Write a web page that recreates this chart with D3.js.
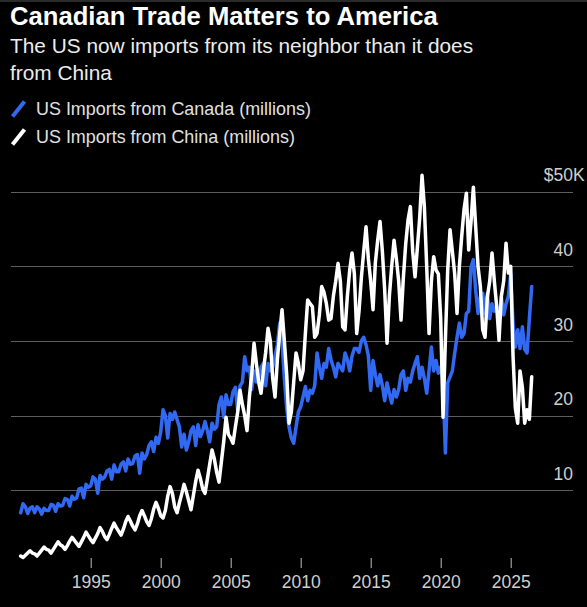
<!DOCTYPE html>
<html>
<head>
<meta charset="utf-8">
<script src="https://cdn.jsdelivr.net/npm/d3@7"></script>
<style>
  body { margin: 0; background: #000; }
  svg { display: block; font-family: "Liberation Sans", Arial, sans-serif; }
</style>
</head>
<body>
<div id="chart-area"></div>
<script>
// readings every two months (Jan, Mar, May, Jul, Sep, Nov), $ billions
var startYear = 1990
var perYear = 6

var canada = [
  7.0, 8.2, 7.8, 6.9, 7.6, 7.8,        // 1990
  7.0, 7.8, 7.5, 6.8, 7.6, 7.3,        // 1991
  7.3, 8.1, 8.0, 7.2, 8.2, 7.9,        // 1992
  8.0, 8.9, 8.8, 7.9, 9.2, 8.8,        // 1993
  9.0, 10.2, 10.3, 9.0, 10.8, 10.4,    // 1994
  10.6, 11.8, 11.5, 9.6, 12.0, 11.5,   // 1995
  11.8, 12.6, 12.8, 11.5, 13.4, 12.5,  // 1996
  12.5, 13.5, 13.8, 12.6, 14.2, 13.5,  // 1997
  13.6, 14.6, 14.8, 12.3, 15.0, 14.2,  // 1998
  14.8, 16.0, 16.5, 15.2, 17.1, 16.3,  // 1999
  17.8, 20.8, 20.0, 17.0, 20.3, 19.5,  // 2000
  20.5, 19.5, 18.5, 15.8, 17.5, 15.4,  // 2001
  16.5, 18.0, 18.5, 16.0, 18.8, 17.2,  // 2002
  18.0, 19.2, 18.0, 16.5, 19.0, 18.2,  // 2003
  18.5, 21.5, 22.5, 19.8, 22.8, 21.5,  // 2004
  21.5, 23.2, 23.8, 20.7, 24.0, 24.5,  // 2005
  27.9, 26.0, 26.5, 23.5, 26.0, 24.5,  // 2006
  25.0, 26.5, 27.0, 24.0, 27.0, 26.0,  // 2007
  26.5, 28.0, 29.5, 32.4, 30.0, 25.0,  // 2008
  21.0, 18.5, 17.0, 16.3, 18.5, 20.5,  // 2009
  21.2, 22.5, 23.9, 22.0, 23.4, 23.0,  // 2010
  24.0, 28.4, 26.5, 25.0, 27.0, 26.5,  // 2011
  29.0, 27.5, 26.5, 25.2, 27.0, 26.5,  // 2012
  26.0, 28.4, 27.5, 26.0, 28.0, 29.0,  // 2013
  29.0, 28.5, 30.0, 30.5, 29.5, 28.0,  // 2014
  23.4, 27.4, 25.5, 24.0, 25.5, 24.0,  // 2015
  22.0, 24.4, 23.0, 21.7, 23.5, 22.5,  // 2016
  23.5, 25.5, 26.0, 23.4, 25.0, 24.5,  // 2017
  26.0, 27.0, 27.9, 25.0, 26.5, 25.0,  // 2018
  23.0, 26.0, 29.2, 26.0, 27.4, 25.7,  // 2019
  26.5, 25.0, 15.0, 24.4, 25.2, 26.0,  // 2020
  28.4, 30.5, 32.4, 30.5, 31.0, 33.7,  // 2021
  34.0, 39.9, 40.9, 36.8, 33.7, 36.0,  // 2022
  36.4, 33.7, 36.4, 33.0, 35.0, 34.0,  // 2023
  34.6, 33.2, 35.9, 33.5, 35.0, 36.0,  // 2024
  39.0, 32.4, 29.2, 31.5, 29.0, 31.9,  // 2025
  28.9, 28.4, 33.0, 37.3               // 2026
]

var china = [
  1.2, 1.0, 1.3, 1.6, 1.9, 1.6,        // 1990
  1.5, 1.2, 1.6, 2.0, 2.4, 2.1,        // 1991
  2.0, 1.6, 2.1, 2.6, 3.1, 2.7,        // 1992
  2.5, 2.1, 2.6, 3.2, 3.7, 3.3,        // 1993
  2.9, 2.5, 3.1, 3.7, 4.4, 3.9,        // 1994
  3.4, 3.0, 3.6, 4.2, 5.0, 4.5,        // 1995
  3.8, 3.4, 4.1, 4.9, 5.6, 5.0,        // 1996
  4.5, 4.0, 4.8, 5.8, 6.5, 5.9,        // 1997
  5.2, 4.7, 5.5, 6.6, 7.3, 6.6,        // 1998
  5.8, 5.3, 6.2, 7.5, 8.4, 7.6,        // 1999
  6.6, 6.3, 7.3, 9.2, 10.5, 9.6,       // 2000
  7.8, 7.0, 8.3, 9.5, 10.8, 9.8,       // 2001
  8.6, 7.4, 9.3, 11.2, 12.7, 11.6,     // 2002
  10.2, 9.6, 11.5, 13.5, 15.4, 14.2,   // 2003
  12.4, 11.1, 13.8, 16.5, 19.8, 17.5,  // 2004
  17.0, 16.3, 18.5, 20.5, 23.4, 21.5,  // 2005
  20.0, 18.0, 22.5, 25.5, 29.7, 27.0,  // 2006
  24.5, 23.0, 26.0, 28.5, 31.7, 30.0,  // 2007
  25.0, 22.5, 27.5, 31.0, 34.2, 30.0,  // 2008
  25.5, 19.0, 20.5, 24.5, 28.4, 27.0,  // 2009
  24.8, 26.0, 31.0, 35.5, 35.0, 34.6,  // 2010
  30.5, 31.0, 33.5, 37.3, 36.5, 35.0,  // 2011
  32.8, 33.0, 36.0, 38.0, 40.4, 38.0,  // 2012
  31.9, 31.5, 36.0, 39.5, 41.8, 39.0,  // 2013
  31.0, 34.0, 38.5, 42.0, 45.3, 41.0,  // 2014
  38.0, 34.2, 40.5, 43.5, 46.0, 42.0,  // 2015
  36.8, 29.7, 36.0, 40.0, 43.5, 41.0,  // 2016
  38.0, 32.8, 38.5, 43.0, 46.2, 48.0,  // 2017
  42.0, 38.6, 42.5, 46.5, 52.2, 48.0,  // 2018
  40.0, 31.0, 38.0, 41.3, 39.5, 39.0,  // 2019
  33.0, 19.8, 30.0, 39.5, 44.9, 42.0,  // 2020
  39.0, 33.7, 40.0, 44.0, 47.6, 49.8,  // 2021
  42.2, 46.0, 50.6, 45.3, 40.0, 37.3,  // 2022
  31.5, 30.5, 35.9, 38.0, 41.8, 38.0,  // 2023
  34.6, 30.1, 36.0, 38.0, 43.1, 39.1,  // 2024
  40.0, 28.0, 21.0, 19.0, 26.0, 23.8,  // 2025
  19.0, 20.8, 19.5, 25.2               // 2026
]

var yTicks = [10, 20, 30, 40, 50]
var xTicks = [1995, 2000, 2005, 2010, 2015, 2020, 2025]

var title = "Canadian Trade Matters to America"
var subtitle = ["The US now imports from its neighbor than it does", "from China"]
var legendLabels = ["US Imports from Canada (millions)", "US Imports from China (millions)"]
var colors = ["#3169f3", "#ffffff"]

var W = 587, H = 607

var svg = d3.select("#chart-area").append("svg")
  .attr("width", W)
  .attr("height", H)

svg.append("rect").attr("width", W).attr("height", H).attr("fill", "#000")
svg.append("rect").attr("width", W).attr("height", 2).attr("fill", "#2a2a2a")

// fit a text element to a target width by adjusting its font size
function fit(sel, target) {
  var fs = parseFloat(sel.attr("font-size"))
  var w = sel.node().getComputedTextLength()
  sel.attr("font-size", (fs * target / w).toFixed(2))
}

fit(svg.append("text")
  .attr("x", 10).attr("y", 25)
  .attr("font-size", 23).attr("font-weight", "bold")
  .attr("fill", "#fff")
  .text(title), 428)

var sub1 = svg.append("text")
  .attr("x", 10).attr("y", 53)
  .attr("font-size", 20)
  .attr("fill", "#ececec")
  .text(subtitle[0])
fit(sub1, 463)
svg.append("text")
  .attr("x", 10).attr("y", 80)
  .attr("font-size", sub1.attr("font-size"))
  .attr("fill", "#ececec")
  .text(subtitle[1])

// legend
var legend = svg.selectAll(".legend")
  .data(legendLabels)
  .enter().append("g")
    .attr("class", "legend")
    .attr("transform", function(d, i) { return "translate(0," + (115 + i * 28) + ")" })

legend.append("line")
  .attr("x1", 12.5).attr("y1", 1.5)
  .attr("x2", 24.5).attr("y2", -13.5)
  .attr("stroke", function(d, i) { return colors[i] })
  .attr("stroke-width", 4)

var leg1 = legend.append("text")
  .attr("x", 36).attr("y", 0)
  .attr("font-size", 17)
  .attr("fill", "#e0e0e0")
  .text(function(d) { return d })
fit(d3.select(leg1.nodes()[0]), 275)
leg1.attr("font-size", d3.select(leg1.nodes()[0]).attr("font-size"))

// scales
var x = d3.scaleLinear()
  .domain([1990, 2025])
  .range([20.7, 510.7])

var y = d3.scaleLinear()
  .domain([0, 50])
  .range([565, 191.7])

function toPoints(values) {
  return values.map(function(v, i) { return { t: startYear + i / perYear, v: v } })
}

// gridlines + right labels
var grid = svg.append("g").attr("class", "grid")
grid.selectAll("line")
  .data(yTicks)
  .enter().append("line")
    .attr("x1", 11).attr("x2", 573)
    .attr("y1", function(d) { return Math.round(y(d)) + 0.5 })
    .attr("y2", function(d) { return Math.round(y(d)) + 0.5 })
    .attr("stroke", "#5c5c5c")
    .attr("stroke-width", 1)

var labelX = 573
grid.selectAll("text.num")
  .data(yTicks)
  .enter().append("text")
    .attr("class", "num")
    .attr("x", labelX)
    .attr("y", function(d) { return y(d) - 10.5 })
    .attr("text-anchor", "end")
    .attr("font-size", 17.5)
    .attr("fill", "#cfcfcf")
    .text(function(d) { return d })

// $ and K around the top label
var topNum = grid.selectAll("text.num").filter(function(d) { return d === 50 })
var numW = topNum.node().getComputedTextLength()
grid.append("text")
  .attr("x", labelX - numW).attr("y", y(50) - 10.5)
  .attr("text-anchor", "end").attr("font-size", 17.5).attr("fill", "#cfcfcf")
  .text("$")
grid.append("text")
  .attr("x", labelX).attr("y", y(50) - 10.5)
  .attr("font-size", 17.5).attr("fill", "#cfcfcf")
  .text("K")

// x axis
var xAxisCall = d3.axisBottom(x)
  .tickValues(xTicks)
  .tickSize(10)
  .tickPadding(8)
  .tickFormat(d3.format("d"))

var xAxis = svg.append("g")
  .attr("class", "x axis")
  .attr("transform", "translate(0,558)")
  .call(xAxisCall)
xAxis.select(".domain").remove()
xAxis.selectAll("line").attr("stroke", "#bdbdbd")
xAxis.selectAll("text")
  .attr("fill", "#cfcfcf")
  .attr("font-size", 17.5)
  .attr("font-family", "Liberation Sans, Arial, sans-serif")

// lines
var valueline = d3.line()
  .x(function(d) { return x(d.t) })
  .y(function(d) { return y(d.v) })

var series = [toPoints(canada), toPoints(china)]

svg.selectAll("path.line")
  .data(series)
  .enter().append("path")
    .attr("class", "line")
    .attr("d", valueline)
    .attr("fill", "none")
    .attr("stroke", function(d, i) { return colors[i] })
    .attr("stroke-width", 3.5)
    .attr("stroke-linejoin", "round")
    .attr("stroke-linecap", "round")
</script>
</body>
</html>
